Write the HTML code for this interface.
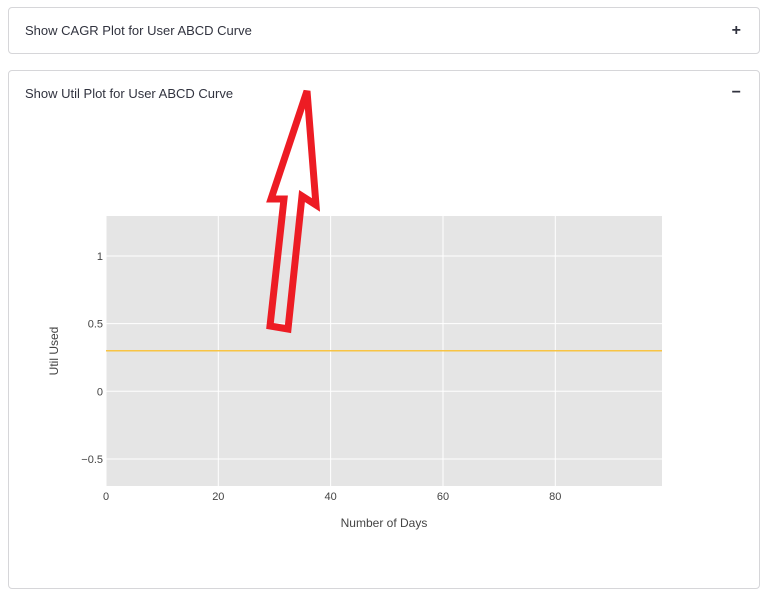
<!DOCTYPE html>
<html><head><meta charset="utf-8"><style>
body{margin:0;width:768px;height:603px;background:#fff;font-family:"Liberation Sans",sans-serif;position:relative;overflow:hidden}
.box{position:absolute;left:8px;width:750px;border:1px solid #d6d6d9;border-radius:4px;background:#fff}
.hdr{position:absolute;left:16px;font-size:13px;color:#31333f}
.sym{position:absolute;right:18px;font-size:16px;font-weight:bold;color:#31333f}
</style></head><body>
<div class="box" style="top:7px;height:45px">
<div class="hdr" style="top:15px">Show CAGR Plot for User ABCD Curve</div>
<div class="sym" style="top:14px">+</div></div>
<div class="box" style="top:70px;height:517px">
<div class="hdr" style="top:15px">Show Util Plot for User ABCD Curve</div>
<div class="sym" style="top:13px">−</div></div>
<svg id="chart" width="768" height="603" style="position:absolute;left:0;top:0" font-family="Liberation Sans, sans-serif"></svg>
<script>
const days=[0,10,20,30,40,50,60,70,80,90,99];
const util=[0.3,0.3,0.3,0.3,0.3,0.3,0.3,0.3,0.3,0.3,0.3];
const xTicks=[0,20,40,60,80];
const yTicks=[-0.5,0,0.5,1];
const yTickLabels=["−0.5","0","0.5","1"];
const L=106,R=662,T=216,B=486,xmin=0,xmax=99,ymin=-0.70,ymax=1.296;
const sx=v=>L+(v-xmin)/(xmax-xmin)*(R-L), sy=v=>B-(v-ymin)/(ymax-ymin)*(B-T);
const svg=document.getElementById('chart');const NS='http://www.w3.org/2000/svg';
function mk(t,a,p){const e=document.createElementNS(NS,t);for(const k in a)e.setAttribute(k,a[k]);(p||svg).appendChild(e);return e;}
const bg=mk('rect',{x:L,y:T,width:R-L,height:B-T,fill:'#e5e5e5'});


xTicks.forEach(v=>{const g=mk('line',{x1:sx(v),x2:sx(v),y1:T,y2:B,stroke:'#fff','stroke-width':1});


const t=mk('text',{x:sx(v),y:500,'font-size':11,'text-anchor':'middle',fill:'#444'});t.textContent=v;

});
yTicks.forEach((v,i)=>{const g=mk('line',{x1:L,x2:R,y1:sy(v),y2:sy(v),stroke:'#fff','stroke-width':1});


const t=mk('text',{x:103,y:sy(v)+4,'font-size':11,'text-anchor':'end',fill:'#444'});t.textContent=yTickLabels[i];

});
const ln=mk('polyline',{points:days.map((d,i)=>sx(d)+','+sy(util[i])).join(' '),fill:'none',stroke:'#f8c444','stroke-width':1.5});


const xt=mk('text',{x:384,y:527,'font-size':12,'text-anchor':'middle',fill:'#444'});xt.textContent='Number of Days';


const yt=mk('text',{x:0,y:0,'font-size':12,'text-anchor':'middle',fill:'#444',transform:'translate(58,351) rotate(-90)'});yt.textContent='Util Used';


const ar=mk('polygon',{points:'307,91 316,205 302,196 288,329 270,326 284,199 271,199',fill:'none',stroke:'#ed1c24','stroke-width':7,'stroke-linejoin':'miter'});


</script>
</body></html>
